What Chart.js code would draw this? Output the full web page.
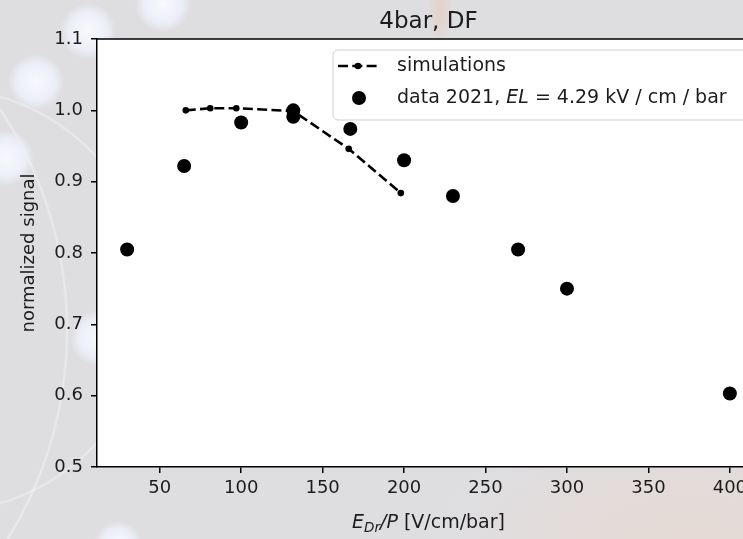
<!DOCTYPE html>
<html>
<head>
<meta charset="utf-8">
<script src="https://cdn.jsdelivr.net/npm/chart.js@4.4.1/dist/chart.umd.min.js"></script>
<style>
html, body { margin:0; padding:0; width:743px; height:539px; overflow:hidden; }
#bg {
  position:absolute; left:0; top:0; width:743px; height:539px;
  background:
    radial-gradient(circle at 88px 31px, rgba(250,251,255,0.95) 0, rgba(238,240,250,0.9) 19px, rgba(222,222,225,0) 28px),
    radial-gradient(circle at 163px 4px, rgba(250,251,255,0.95) 0, rgba(238,240,250,0.9) 19px, rgba(222,222,225,0) 28px),
    radial-gradient(circle at 36px 82px, rgba(250,251,255,0.95) 0, rgba(238,240,250,0.9) 19px, rgba(222,222,225,0) 28px),
    radial-gradient(circle at 6px 158px, rgba(250,251,255,0.95) 0, rgba(238,240,250,0.9) 19px, rgba(222,222,225,0) 28px),
    radial-gradient(circle at 98px 338px, rgba(250,251,255,0.95) 0, rgba(238,240,250,0.9) 19px, rgba(222,222,225,0) 28px),
    radial-gradient(circle at 118px 545px, rgba(250,251,255,0.95) 0, rgba(238,240,250,0.9) 16px, rgba(222,222,225,0) 24px),
    radial-gradient(circle at -330px 330px, rgba(255,255,255,0) 395px, rgba(255,255,255,0.4) 397px, rgba(255,255,255,0) 399px),
    radial-gradient(circle at -60px 300px, rgba(255,255,255,0) 210px, rgba(255,255,255,0.35) 212px, rgba(255,255,255,0) 214px),
    radial-gradient(ellipse 14px 40px at 440px 10px, rgba(235,200,185,0.6) 0, rgba(222,222,225,0) 100%),
    radial-gradient(ellipse 260px 120px at 690px 539px, rgba(236,214,200,0.55) 0, rgba(222,222,225,0) 100%),
    #dedee1;
}
#wrap { position:absolute; left:0; top:0; width:780px; height:539px; }
</style>
</head>
<body>
<div id="bg"></div>
<div id="wrap"><canvas id="c" width="780" height="539"></canvas></div>
<script>
// ---- data ----
const chartTitle = '4bar, DF';
const yAxisLabel = 'normalized signal';
const xTicks = [50, 100, 150, 200, 250, 300, 350, 400];
const yTicks = [0.5, 0.6, 0.7, 0.8, 0.9, 1.0, 1.1];
const simLabel = 'simulations';
const simX = [66, 81, 97, 132, 166, 198];
const simY = [1.000, 1.003, 1.003, 0.999, 0.946, 0.884];
const dataLabelParts = ['data 2021, ', 'EL', ' = 4.29 kV / cm / bar'];
const dataX = [30, 65, 100, 132, 132, 167, 200, 230, 270, 300, 400];
const dataY = [0.805, 0.922, 0.983, 1.000, 0.991, 0.974, 0.930, 0.880, 0.805, 0.750, 0.603];

const FONT = '"DejaVu Sans", sans-serif';
const FS = 18;
const LFS = 19;
const TXT = '#1c1c1c';

const decorPlugin = {
  id: 'decor',
  beforeDraw(chart) {
    const {ctx, chartArea: a} = chart;
    ctx.save();
    ctx.fillStyle = '#ffffff';
    ctx.fillRect(a.left, a.top, a.right - a.left, a.bottom - a.top);
    ctx.restore();
  },
  afterDraw(chart) {
    const {ctx, chartArea: a} = chart;
    ctx.save();
    // frame (top and right spines)
    ctx.strokeStyle = '#000';
    ctx.lineWidth = 1.5;
    ctx.beginPath();
    ctx.moveTo(a.left, a.top);
    ctx.lineTo(a.right, a.top);
    ctx.lineTo(a.right, a.bottom);
    ctx.stroke();

    // legend
    const bx = 333, by = 50, bw = 418, bh = 70, r = 5;
    ctx.lineWidth = 1;
    ctx.beginPath();
    ctx.moveTo(bx + r, by);
    ctx.arcTo(bx + bw, by, bx + bw, by + bh, r);
    ctx.arcTo(bx + bw, by + bh, bx, by + bh, r);
    ctx.arcTo(bx, by + bh, bx, by, r);
    ctx.arcTo(bx, by, bx + bw, by, r);
    ctx.closePath();
    ctx.fillStyle = 'rgba(255,255,255,0.8)';
    ctx.fill();
    ctx.strokeStyle = '#d0d0d0';
    ctx.stroke();

    const y1 = 66, y2 = 98;
    ctx.strokeStyle = '#000';
    ctx.lineWidth = 2.6;
    ctx.setLineDash([10, 4.3]);
    ctx.beginPath();
    ctx.moveTo(338, y1); ctx.lineTo(378, y1);
    ctx.stroke();
    ctx.setLineDash([]);
    ctx.fillStyle = '#000';
    ctx.beginPath(); ctx.arc(358, y1, 3.3, 0, Math.PI * 2); ctx.fill();
    ctx.beginPath(); ctx.arc(359, y2, 7, 0, Math.PI * 2); ctx.fill();

    ctx.fillStyle = TXT;
    ctx.textBaseline = 'middle';
    ctx.textAlign = 'left';
    ctx.font = LFS + 'px ' + FONT;
    ctx.fillText(simLabel, 397, y1);
    let x = 397;
    const styles = ['', 'italic ', ''];
    dataLabelParts.forEach((t, i) => {
      ctx.font = styles[i] + LFS + 'px ' + FONT;
      ctx.fillText(t, x, y2);
      x += ctx.measureText(t).width;
    });

    // x axis title: E_Dr/P [V/cm/bar]
    const parts = [
      {t: 'E', f: 'italic 19px ', dy: 0},
      {t: 'Dr', f: 'italic 13.5px ', dy: 3.5},
      {t: '/P', f: 'italic 19px ', dy: 0},
      {t: ' [V/cm/bar]', f: '19px ', dy: 0}
    ];
    let total = 0;
    parts.forEach(p => { ctx.font = p.f + FONT; p.w = ctx.measureText(p.t).width; total += p.w; });
    let cx = (a.left + a.right) / 2 - total / 2;
    ctx.textBaseline = 'alphabetic';
    const base = 528;
    parts.forEach(p => {
      ctx.font = p.f + FONT;
      ctx.fillText(p.t, cx, base + p.dy);
      cx += p.w;
    });
    ctx.restore();
  }
};

const tickFont = {family: FONT, size: FS};

new Chart(document.getElementById('c'), {
  type: 'scatter',
  data: {
    datasets: [
      {
        label: 'data 2021, EL = 4.29 kV / cm / bar',
        data: dataX.map((x, i) => ({x: x, y: dataY[i]})),
        showLine: false,
        pointRadius: 7,
        pointBackgroundColor: '#000',
        pointBorderWidth: 0,
        pointHoverRadius: 7
      },
      {
        label: simLabel,
        data: simX.map((x, i) => ({x: x, y: simY[i]})),
        showLine: true,
        borderColor: '#000',
        borderWidth: 2.6,
        borderDash: [10, 4.3],
        pointRadius: 3.3,
        pointBackgroundColor: '#000',
        pointBorderWidth: 0,
        pointHoverRadius: 3.3
      }
    ]
  },
  options: {
    responsive: false,
    animation: false,
    devicePixelRatio: 1,
    events: [],
    layout: {padding: {top: 0, right: 20, bottom: 0, left: 0}},
    plugins: {
      legend: {display: false},
      tooltip: {enabled: false},
      title: {
        display: true, text: chartTitle, fullSize: false, color: TXT,
        font: {family: FONT, size: 23, weight: 'normal'},
        padding: {top: 8.2, bottom: 3.2}
      }
    },
    scales: {
      x: {
        type: 'linear', min: 11.5, max: 418.5,
        afterBuildTicks: s => { s.ticks = xTicks.map(v => ({value: v})); },
        afterFit: s => { s.height = 72; },
        grid: {display: true, drawOnChartArea: false, drawTicks: true, tickLength: 6, color: '#000', lineWidth: 1.5},
        border: {display: true, color: '#000', width: 1.5},
        ticks: {font: tickFont, color: TXT, padding: 5, maxRotation: 0, autoSkip: false, callback: v => String(v)}
      },
      y: {
        type: 'linear', min: 0.5, max: 1.1,
        afterBuildTicks: s => { s.ticks = yTicks.map(v => ({value: v})); },
        afterFit: s => { s.width = 97; },
        grid: {display: true, drawOnChartArea: false, drawTicks: true, tickLength: 6, color: '#000', lineWidth: 1.5},
        border: {display: true, color: '#000', width: 1.5},
        ticks: {font: tickFont, color: TXT, padding: 8, autoSkip: false, callback: v => Number(v).toFixed(1)},
        title: {display: true, text: yAxisLabel, color: TXT, font: {family: FONT, size: FS}, padding: {top: 19, bottom: 0}}
      }
    }
  },
  plugins: [decorPlugin]
});
</script>
</body>
</html>
